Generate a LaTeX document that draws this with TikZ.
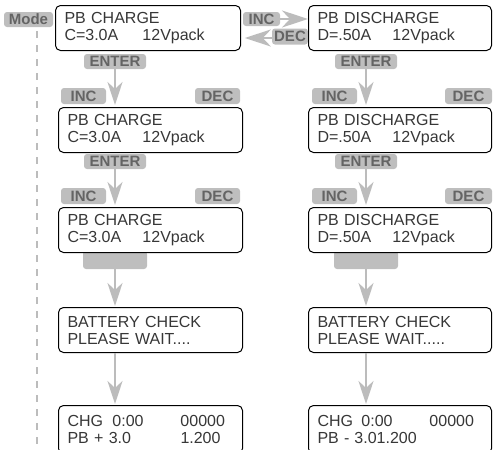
\documentclass[tikz,border=0pt]{standalone}
\usepackage{fontspec}
\setmainfont{Liberation Sans}
\usetikzlibrary{arrows.meta}
\definecolor{lbl}{RGB}{190,190,190}
\definecolor{lbltxt}{RGB}{100,100,100}
\definecolor{arr}{RGB}{188,188,188}
\definecolor{txt}{RGB}{55,55,55}
\begin{document}
\begin{tikzpicture}[x=1pt,y=-1pt,
  lcd/.style={draw=black, line width=1pt, rounded corners=5pt, fill=white,
    minimum height=45pt, inner xsep=9pt, inner ysep=0pt, align=left,
    font=\fontsize{16}{17}\selectfont, text=txt, anchor=north west},
  key/.style={fill=lbl, rounded corners=3pt, text=lbltxt,
    font=\bfseries\fontsize{15}{15}\selectfont, inner sep=0pt,
    minimum height=15pt},
  flow/.style={draw=arr, line width=2.5pt, -{Stealth[length=23pt,width=15pt,inset=7pt]}},
  side/.style={draw=arr, line width=2.5pt, -{Stealth[length=26pt,width=17pt,inset=8pt]}},
  modeline/.style={draw=arr, line width=2pt, dash pattern=on 7pt off 7pt}
]
\useasboundingbox (0,0) rectangle (493,450);
\clip (0,0) rectangle (493,450);

% mode label and dashed line
\node[key, minimum width=49pt] (mode) at (28.5,19.5) {Mode};
\coordinate (mend) at (37,455);
\draw[modeline] (mode.south -| mend) ++(0,4) -- (mend);

% labels
\node[key, minimum width=37pt, minimum height=14pt] (incT) at (261.5,19) {INC};
\node[key, minimum width=36pt, minimum height=16pt] (decT) at (290,36.5) {DEC};

\node[key, minimum width=62pt] (enL1) at (115,61.5) {ENTER};
\node[key, minimum width=62pt] (enR1) at (366,61.5) {ENTER};

\node[key, minimum width=45pt, minimum height=16pt] (incL1) at (83.5,96) {INC};
\node[key, minimum width=45pt, minimum height=16pt] (decL1) at (217.5,96) {DEC};
\node[key, minimum width=45pt, minimum height=16pt] (incR1) at (334.5,96) {INC};
\node[key, minimum width=47pt, minimum height=16pt] (decR1) at (468.5,96) {DEC};

\node[key, minimum width=62pt] (enL2) at (115,161.5) {ENTER};
\node[key, minimum width=62pt] (enR2) at (366,161.5) {ENTER};

\node[key, minimum width=45pt, minimum height=16pt] (incL2) at (83.5,196) {INC};
\node[key, minimum width=45pt, minimum height=16pt] (decL2) at (217.5,196) {DEC};
\node[key, minimum width=45pt, minimum height=16pt] (incR2) at (334.5,196) {INC};
\node[key, minimum width=47pt, minimum height=16pt] (decR2) at (468.5,196) {DEC};

\node[key, minimum width=64pt, minimum height=18pt] (blkL) at (115,260) {};
\node[key, minimum width=64pt, minimum height=18pt] (blkR) at (366,260) {};

% LCD boxes
\node[lcd, text width=167pt] (L1) at (55,5) {PB CHARGE\\\makebox[78pt][l]{C=3.0A}12Vpack};
\node[lcd, text width=165pt] (R1) at (308,5) {PB DISCHARGE\\\makebox[75pt][l]{D=.50A}12Vpack};
\node[lcd, text width=166pt] (L2) at (58,107) {PB CHARGE\\\makebox[75pt][l]{C=3.0A}12Vpack};
\node[lcd, text width=165pt] (R2) at (308,107) {PB DISCHARGE\\\makebox[75pt][l]{D=.50A}12Vpack};
\node[lcd, text width=166pt] (L3) at (58,207) {PB CHARGE\\\makebox[75pt][l]{C=3.0A}12Vpack};
\node[lcd, text width=165pt] (R3) at (308,207) {PB DISCHARGE\\\makebox[75pt][l]{D=.50A}12Vpack};
\node[lcd, text width=166pt] (L4) at (58,307) {BATTERY CHECK\\PLEASE WAIT....};
\node[lcd, text width=165pt] (R4) at (308,307) {BATTERY CHECK\\PLEASE WAIT.....};
\node[lcd, text width=166pt, minimum height=48pt] (L5) at (58,405) {\makebox[45pt][l]{CHG}\makebox[68pt][l]{0:00}00000\\\makebox[113pt][l]{PB + 3.0}1.200};
\node[lcd, text width=165pt, minimum height=48pt] (R5) at (308,405) {\makebox[44pt][l]{CHG}\makebox[68pt][l]{0:00}00000\\\makebox[37pt][l]{PB -}3.01.200};

% horizontal arrows
\draw[side] (incT.east) -- (incT.east -| R1.west);
\draw[side] (decT.west) ++(0,1.5) -- ++(-27,0) coordinate (decTip);

% vertical arrows
\draw[flow, shorten >=2pt] (enL1.south) -- (enL1.south |- L2.north);
\draw[flow, shorten >=2pt] (enR1.south) -- (enR1.south |- R2.north);
\draw[flow, shorten >=2pt] (enL2.south) -- (enL2.south |- L3.north);
\draw[flow, shorten >=2pt] (enR2.south) -- (enR2.south |- R3.north);
\draw[flow, shorten >=1pt] (blkL.south) -- (blkL.south |- L4.north);
\draw[flow, shorten >=1pt] (blkR.south) -- (blkR.south |- R4.north);
\draw[flow, shorten >=1pt] (L4.south -| blkL.south) -- (blkL.south |- L5.north);
\draw[flow, shorten >=1pt] (R4.south -| blkR.south) -- (blkR.south |- R5.north);
\end{tikzpicture}
\end{document}
